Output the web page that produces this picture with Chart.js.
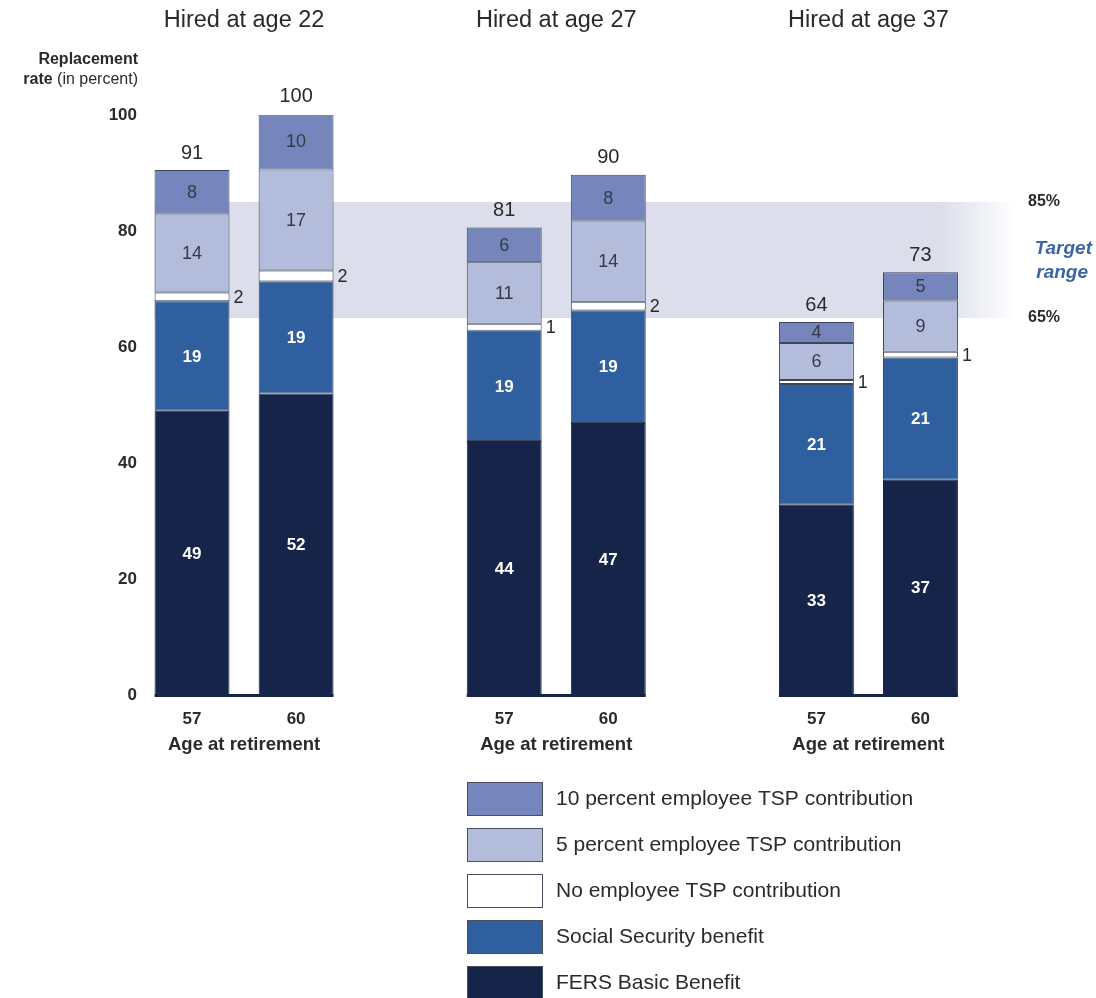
<!DOCTYPE html>
<html>
<head>
<meta charset="utf-8">
<script src="https://cdn.jsdelivr.net/npm/chart.js@4.4.1/dist/chart.umd.min.js"></script>
<style>
  html, body { margin: 0; padding: 0; background: #ffffff; }
  #wrap { width: 1096px; height: 998px; position: relative; }
</style>
</head>
<body>
<div id="wrap"><canvas id="c"></canvas></div>
<script>
// ---- data ----
const groups = ['Hired at age 22', 'Hired at age 27', 'Hired at age 37'];
const retirementAges = ['57', '60'];
const fersBasic      = [49.0, 52.0, 43.8, 46.9, 32.8, 37.1];
const socialSecurity = [18.9, 19.3, 19.0, 19.4, 20.8, 21.1];
const noTsp          = [1.5, 1.9, 1.2, 1.5, 0.7, 1.0];
const tsp5           = [13.6, 17.4, 10.6, 14.0, 6.4, 8.8];
const tsp10          = [7.5, 9.7, 6.0, 7.9, 3.6, 4.9];
const totals         = [91, 100, 81, 90, 64, 73];
const yTicks         = [0, 20, 40, 60, 80, 100];
const targetRange    = [65, 85];
const seriesNames = ['FERS Basic Benefit', 'Social Security benefit', 'No employee TSP contribution',
                     '5 percent employee TSP contribution', '10 percent employee TSP contribution'];
const seriesColors = ['#17244a', '#2f5f9e', '#ffffff', '#b4bcdc', '#7686bc'];

// ---- build category slots (two bars per group, an empty slot between groups) ----
const slots = [];      // category labels
const slotIndex = [];  // index into value arrays or null
groups.forEach((g, gi) => {
  retirementAges.forEach((a, ai) => { slots.push(a); slotIndex.push(gi * retirementAges.length + ai); });
  if (gi < groups.length - 1) { slots.push(''); slotIndex.push(null); }
});
const toSlots = arr => slotIndex.map(i => i === null ? null : arr[i]);
const seriesArrays = [fersBasic, socialSecurity, noTsp, tsp5, tsp10];

const FONT = '"Liberation Sans", Arial, Helvetica, sans-serif';
const TXT = '#2a2a2a';

const datasets = seriesArrays.map((arr, k) => ({
  label: seriesNames[k],
  data: toSlots(arr),
  backgroundColor: seriesColors[k],
  borderColor: k === 0 ? '#17244a' : '#3e4459',
  borderWidth: 1,
  borderSkipped: false,
  barPercentage: 0.72,
  categoryPercentage: 1.0
}));

function barProps(chart, d, i) {
  const el = chart.getDatasetMeta(d).data[i];
  return el.getProps(['x', 'y', 'base', 'width'], true);
}

const decorPlugin = {
  id: 'decor',
  beforeDatasetsDraw(chart) {
    const ctx = chart.ctx, y = chart.scales.y;
    const first = slotIndex.findIndex(v => v !== null);
    const b = barProps(chart, 0, first);
    const x0 = b.x - b.width / 2, x1 = 1016;
    const yTop = y.getPixelForValue(targetRange[1]);
    const yBot = y.getPixelForValue(targetRange[0]);
    const grad = ctx.createLinearGradient(x0, 0, x1, 0);
    const fadeStart = (940 - x0) / (x1 - x0);
    grad.addColorStop(0, '#dcdfeb');
    grad.addColorStop(fadeStart, '#dcdfeb');
    grad.addColorStop(1, 'rgba(220,223,235,0)');
    ctx.save();
    ctx.fillStyle = grad;
    ctx.fillRect(x0, yTop, x1 - x0, yBot - yTop);
    ctx.restore();
  },
  afterDatasetsDraw(chart) {
    const ctx = chart.ctx, y = chart.scales.y;
    ctx.save();
    // baselines per group
    const zero = y.getPixelForValue(0);
    groups.forEach((g, gi) => {
      const i0 = slotIndex.indexOf(gi * 2), i1 = slotIndex.indexOf(gi * 2 + 1);
      const a = barProps(chart, 0, i0), c = barProps(chart, 0, i1);
      ctx.fillStyle = '#17244a';
      ctx.fillRect(a.x - a.width / 2, zero - 1, (c.x + c.width / 2) - (a.x - a.width / 2), 3);
      // group title
      const cx = (a.x + c.x) / 2;
      ctx.fillStyle = TXT;
      ctx.textAlign = 'center';
      ctx.textBaseline = 'middle';
      ctx.font = '23.5px ' + FONT;
      ctx.fillText(g, cx, 21);
      ctx.font = 'bold 18.5px ' + FONT;
      ctx.fillText('Age at retirement', cx, 745);
    });
    // segment labels
    slotIndex.forEach((vi, i) => {
      if (vi === null) return;
      for (let d = 0; d < seriesArrays.length; d++) {
        const p = barProps(chart, d, i);
        const v = Math.round(seriesArrays[d][vi]);
        const cy = (p.y + p.base) / 2;
        ctx.textBaseline = 'middle';
        if (d <= 1) {
          ctx.fillStyle = '#ffffff';
          ctx.font = 'bold 17px ' + FONT;
          ctx.textAlign = 'center';
          ctx.fillText(String(v), p.x, cy + 1);
        } else if (d === 2) {
          ctx.fillStyle = TXT;
          ctx.font = '18px ' + FONT;
          ctx.textAlign = 'left';
          ctx.fillText(String(v), p.x + p.width / 2 + 4, cy + 1);
        } else {
          ctx.fillStyle = '#333a4a';
          ctx.font = '18px ' + FONT;
          ctx.textAlign = 'center';
          ctx.fillText(String(v), p.x, cy + 1);
        }
      }
      const top = barProps(chart, seriesArrays.length - 1, i);
      ctx.fillStyle = TXT;
      ctx.font = '20px ' + FONT;
      ctx.textAlign = 'center';
      ctx.textBaseline = 'middle';
      ctx.fillText(String(totals[vi]), top.x, top.y - 17);
    });
    // target range labels
    ctx.fillStyle = TXT;
    ctx.font = 'bold 16px ' + FONT;
    ctx.textAlign = 'left';
    ctx.textBaseline = 'middle';
    ctx.fillText(targetRange[1] + '%', 1028, y.getPixelForValue(targetRange[1]));
    ctx.fillText(targetRange[0] + '%', 1028, y.getPixelForValue(targetRange[0]));
    const mid = y.getPixelForValue((targetRange[0] + targetRange[1]) / 2);
    ctx.fillStyle = '#3b66a3';
    ctx.font = 'italic bold 19px ' + FONT;
    ctx.textAlign = 'right';
    ctx.fillText('Target', 1092, mid - 11);
    ctx.fillText('range', 1088, mid + 13);
    // y-axis title
    ctx.fillStyle = TXT;
    ctx.textAlign = 'right';
    ctx.font = 'bold 16px ' + FONT;
    ctx.fillText('Replacement', 138, 60);
    ctx.font = '16px ' + FONT;
    const w = ctx.measureText(' (in percent)').width;
    ctx.fillText(' (in percent)', 138, 80);
    ctx.font = 'bold 16px ' + FONT;
    ctx.fillText('rate', 138 - w, 80);
    // legend (top to bottom = stack top to bottom)
    const order = [4, 3, 2, 1, 0];
    order.forEach((d, k) => {
      const by = 782 + k * 46;
      ctx.fillStyle = seriesColors[d];
      ctx.fillRect(467, by, 76, 34);
      ctx.strokeStyle = '#4a4f60';
      ctx.lineWidth = 1;
      ctx.strokeRect(467.5, by + 0.5, 75, 33);
      ctx.fillStyle = TXT;
      ctx.font = '21px ' + FONT;
      ctx.textAlign = 'left';
      ctx.textBaseline = 'middle';
      ctx.fillText(seriesNames[d], 556, by + 17);
    });
    ctx.restore();
  }
};

new Chart(document.getElementById('c'), {
  type: 'bar',
  data: { labels: slots, datasets },
  options: {
    responsive: true,
    maintainAspectRatio: false,
    animation: false,
    events: [],
    layout: { padding: { left: 0, right: 123.5, top: 115, bottom: 263 } },
    plugins: { legend: { display: false }, tooltip: { enabled: false } },
    scales: {
      x: {
        stacked: true,
        grid: { display: false, drawTicks: false },
        border: { display: false },
        ticks: { color: TXT, font: { family: FONT, size: 17, weight: 'bold' }, padding: 14, maxRotation: 0, autoSkip: false },
        afterFit(s) { s.height = 40; }
      },
      y: {
        stacked: true,
        min: yTicks[0],
        max: yTicks[yTicks.length - 1],
        afterBuildTicks(s) { s.ticks = yTicks.map(v => ({ value: v })); },
        grid: { display: false, drawTicks: false },
        border: { display: false },
        ticks: { color: TXT, font: { family: FONT, size: 17, weight: 'bold' }, padding: 3 },
        afterFit(s) { s.width = 140; }
      }
    }
  },
  plugins: [decorPlugin]
});
</script>
</body>
</html>
